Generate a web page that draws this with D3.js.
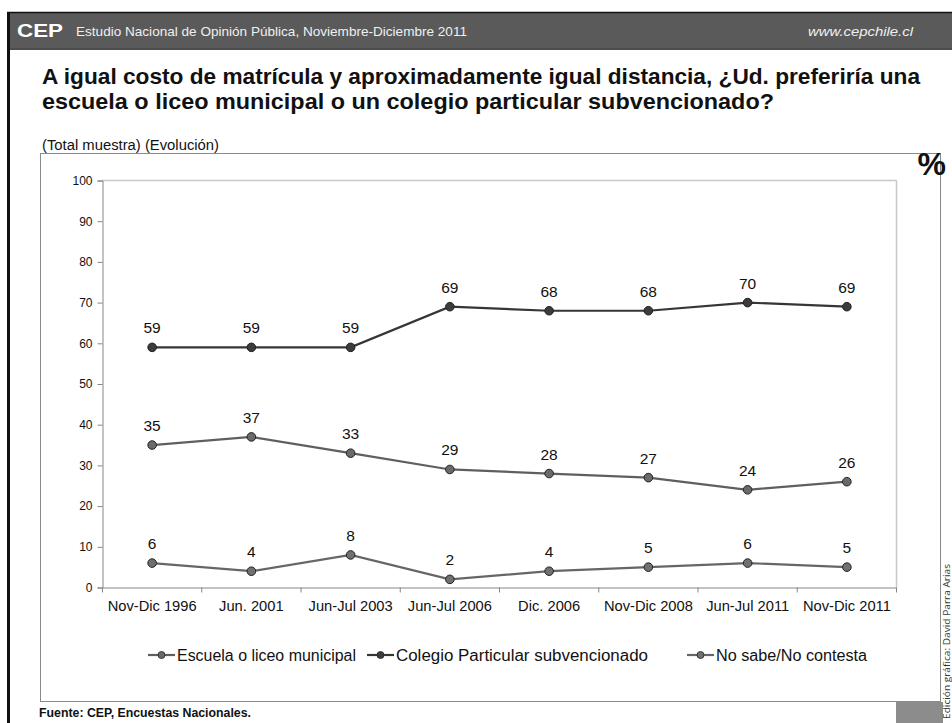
<!DOCTYPE html>
<html><head><meta charset="utf-8">
<script src="https://cdn.jsdelivr.net/npm/d3@7"></script>
<style>body{margin:0;background:#fff;}svg{display:block;font-family:"Liberation Sans",Arial,sans-serif;}</style>
</head><body>
<svg id="c" width="952" height="723"></svg>
<script>
const categories = ["Nov-Dic 1996","Jun. 2001","Jun-Jul 2003","Jun-Jul 2006","Dic. 2006","Nov-Dic 2008","Jun-Jul 2011","Nov-Dic 2011"];
const escuela = [35,37,33,29,28,27,24,26];
const colegio = [59,59,59,69,68,68,70,69];
const noSabe = [6,4,8,2,4,5,6,5];
const seriesNames = ["Escuela o liceo municipal","Colegio Particular subvencionado","No sabe/No contesta"];
const yTicks = [0,10,20,30,40,50,60,70,80,90,100];

const series = [
  {name: seriesNames[0], values: escuela, color: "#5f5f5f", marker: "#6a6a6a"},
  {name: seriesNames[1], values: colegio, color: "#363636", marker: "#3c3c3c"},
  {name: seriesNames[2], values: noSabe, color: "#666666", marker: "#707070"}
];

const svg = d3.select("#c");

// frame
svg.append("rect").attr("x",7).attr("y",12).attr("width",945).attr("height",36).attr("fill","#5a5a5a");
svg.append("line").attr("x1",7).attr("x2",952).attr("y1",12.5).attr("y2",12.5).attr("stroke","#111").attr("stroke-width",1.5);
svg.append("line").attr("x1",7).attr("x2",952).attr("y1",49).attr("y2",49).attr("stroke","#111").attr("stroke-width",1.5);
svg.append("rect").attr("x",7).attr("y",12).attr("width",3).attr("height",711).attr("fill","#111");

svg.append("text").attr("x",17).attr("y",37).attr("fill","#fff").attr("font-size",19).attr("font-weight","bold")
  .attr("textLength",46).attr("lengthAdjust","spacingAndGlyphs").text("CEP");
svg.append("text").attr("x",76).attr("y",36).attr("fill","#f0f0f0").attr("font-size",13.5)
  .attr("textLength",391).attr("lengthAdjust","spacingAndGlyphs").text("Estudio Nacional de Opinión Pública, Noviembre-Diciembre 2011");
svg.append("text").attr("x",808).attr("y",36).attr("fill","#f0f0f0").attr("font-size",13.5).attr("font-style","italic")
  .attr("textLength",105).attr("lengthAdjust","spacingAndGlyphs").text("www.cepchile.cl");

// title
svg.append("text").attr("x",42).attr("y",84).attr("font-size",21.5).attr("font-weight","bold").attr("fill","#111")
  .attr("textLength",878).attr("lengthAdjust","spacingAndGlyphs")
  .text("A igual costo de matrícula y aproximadamente igual distancia, ¿Ud. preferiría una");
svg.append("text").attr("x",42).attr("y",109).attr("font-size",21.5).attr("font-weight","bold").attr("fill","#111")
  .attr("textLength",732).attr("lengthAdjust","spacingAndGlyphs")
  .text("escuela o liceo municipal o un colegio particular subvencionado?");
svg.append("text").attr("x",42).attr("y",150).attr("font-size",14).attr("fill","#111")
  .attr("textLength",177).attr("lengthAdjust","spacingAndGlyphs").text("(Total muestra) (Evolución)");

// panel
svg.append("rect").attr("x",40.5).attr("y",153.5).attr("width",900).attr("height",548).attr("fill","#fff").attr("stroke","#8a8a8a");
svg.append("text").attr("x",946).attr("y",175).attr("font-size",32).attr("font-weight","bold").attr("text-anchor","end").attr("fill","#111").text("%");
// bottom-right gray box
svg.append("rect").attr("x",896).attr("y",702).attr("width",47).attr("height",21).attr("fill","#8c8c8c");
svg.append("text").attr("transform","translate(950,719) rotate(-90)").attr("font-size",9.5).attr("fill","#333")
  .attr("font-family","'Open Sans','DejaVu Sans',sans-serif").attr("textLength",155).attr("lengthAdjust","spacingAndGlyphs")
  .text("Edición gráfica: David Parra Arias");
svg.append("text").attr("x",39).attr("y",717).attr("font-size",12).attr("font-weight","bold").attr("fill","#111")
  .attr("textLength",212).attr("lengthAdjust","spacingAndGlyphs").text("Fuente: CEP, Encuestas Nacionales.");

// plot
const x0 = 102.5, x1 = 896.5, yTop = 180.5, yBot = 587.5;
const x = d3.scaleBand().domain(categories).range([x0, x1]);
const y = d3.scaleLinear().domain([0,100]).range([yBot, yTop]);

svg.append("line").attr("x1",x0).attr("x2",x1).attr("y1",yTop).attr("y2",yTop).attr("stroke","#c8c8c8").attr("stroke-width",1.5);
svg.append("line").attr("x1",x1).attr("x2",x1).attr("y1",yTop).attr("y2",yBot).attr("stroke","#c8c8c8").attr("stroke-width",1.5);

const yAxis = svg.append("g").attr("transform",`translate(${x0},0)`)
  .call(d3.axisLeft(y).tickValues(yTicks).tickSize(5).tickPadding(5));
yAxis.select(".domain").attr("stroke","#868686");
yAxis.selectAll(".tick line").attr("stroke","#868686");
yAxis.selectAll("text").attr("font-size",12).attr("fill","#111").attr("font-family","'Liberation Sans',Arial");

const xAxis = svg.append("g").attr("transform",`translate(0,${yBot})`)
  .call(d3.axisBottom(x).tickSize(0).tickPadding(13));
xAxis.select(".domain").attr("stroke","#868686");
xAxis.selectAll("text").attr("font-size",14.7).attr("fill","#111").attr("font-family","'Liberation Sans',Arial");
const bounds = categories.map(c => x(c)).concat([x1]);
svg.append("g").selectAll("line").data(bounds).join("line")
  .attr("x1",d=>d).attr("x2",d=>d).attr("y1",yBot).attr("y2",yBot+5).attr("stroke","#868686");

const line = d3.line().x((d,i)=>x(categories[i])+x.bandwidth()/2).y(d=>y(d));
series.forEach(s => {
  const g = svg.append("g");
  g.append("path").datum(s.values).attr("d",line).attr("fill","none").attr("stroke",s.color).attr("stroke-width",2.2);
  g.selectAll("circle").data(s.values).join("circle")
    .attr("cx",(d,i)=>x(categories[i])+x.bandwidth()/2).attr("cy",d=>y(d)).attr("r",4.3)
    .attr("fill",s.marker).attr("stroke","#222").attr("stroke-width",1);
  g.selectAll("text").data(s.values).join("text")
    .attr("x",(d,i)=>x(categories[i])+x.bandwidth()/2).attr("y",d=>y(d)-14)
    .attr("text-anchor","middle").attr("font-size",15.5).attr("fill","#111").text(d=>d);
});

// legend
const legendX = [148, 367, 687];
const legendW = [179, 252, 151];
const legY = 655;
series.forEach((s,i) => {
  const g = svg.append("g").attr("transform",`translate(${legendX[i]},${legY})`);
  g.append("line").attr("x1",0).attr("x2",27).attr("y1",0).attr("y2",0).attr("stroke",s.color).attr("stroke-width",2.2);
  g.append("circle").attr("cx",13.5).attr("cy",0).attr("r",3.5).attr("fill",s.marker).attr("stroke","#222").attr("stroke-width",0.8);
  g.append("text").attr("x",29).attr("y",5.5).attr("font-size",16).attr("fill","#111")
    .attr("textLength",legendW[i]).attr("lengthAdjust","spacingAndGlyphs").text(s.name);
});
</script>
</body></html>
